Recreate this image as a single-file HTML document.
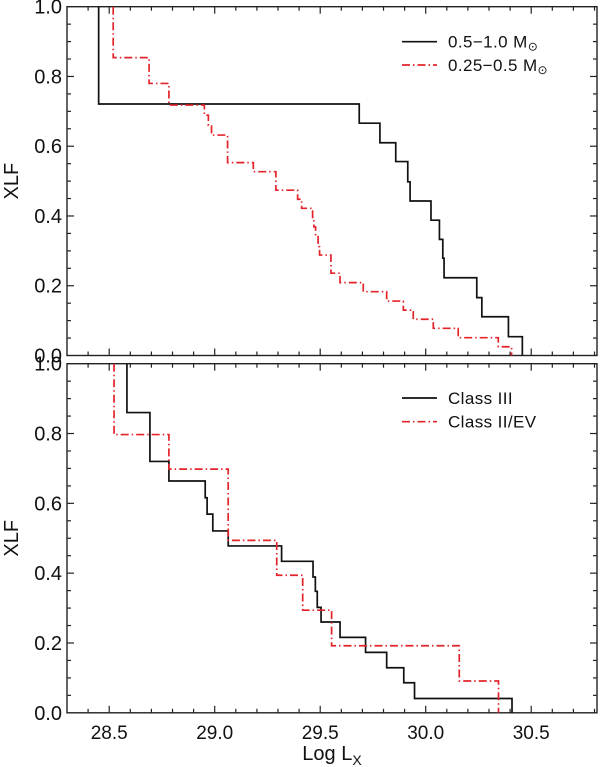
<!DOCTYPE html>
<html><head><meta charset="utf-8"><style>
html,body{margin:0;padding:0;background:#fff}
svg{display:block;font-family:"Liberation Sans",sans-serif}
</style></head><body>
<svg id="chart" width="600" height="767" viewBox="0 0 600 767" xmlns="http://www.w3.org/2000/svg"></svg>
<script>
// Top panel: mass bins. Each series: drop positions (log Lx) and level after drop.
const topBlackX = [28.450,29.685,29.783,29.858,29.915,29.926,30.025,30.065,30.081,30.087,30.242,30.266,30.392,30.458];
const topBlackY = [0.721,0.666,0.610,0.556,0.498,0.443,0.388,0.333,0.279,0.223,0.166,0.111,0.054,0.0];
const topRedX = [28.519,28.689,28.783,28.951,28.970,28.985,29.061,29.183,29.290,29.393,29.412,29.464,29.470,29.478,29.490,29.497,29.551,29.594,29.704,29.815,29.894,29.941,30.036,30.154,30.344,30.407];
const topRedY = [0.854,0.780,0.718,0.689,0.660,0.632,0.553,0.527,0.474,0.448,0.422,0.396,0.369,0.341,0.312,0.288,0.236,0.209,0.183,0.156,0.130,0.104,0.078,0.051,0.025,0.0];
// Bottom panel: classes
const botBlackX = [28.584,28.693,28.783,28.955,28.964,28.991,29.064,29.317,29.466,29.477,29.486,29.504,29.594,29.715,29.815,29.896,29.947,30.409];
const botBlackY = [0.860,0.720,0.664,0.616,0.569,0.521,0.478,0.434,0.389,0.348,0.302,0.260,0.216,0.173,0.129,0.086,0.041,0.0];
const botRedX = [28.523,28.783,29.064,29.294,29.417,29.554,30.159,30.345];
const botRedY = [0.797,0.698,0.494,0.394,0.294,0.192,0.091,0.0];
const xTickLabels = ["28.5","29.0","29.5","30.0","30.5"];
const yTickLabels = ["0.0","0.2","0.4","0.6","0.8","1.0"];

const NS="http://www.w3.org/2000/svg";
const svg=document.getElementById('chart');
const X0=67,X1=597,XMIN=28.3,XMAX=30.8118;
function xs(v){return X0+(v-XMIN)/(XMAX-XMIN)*(X1-X0);}
const panels=[{top:6.7,bot:355.5,name:'top'},{top:363.7,bot:712.8,name:'bottom'}];
function mk(tag,attrs,parent){const e=document.createElementNS(NS,tag);for(const k in attrs)e.setAttribute(k,attrs[k]);(parent||svg).appendChild(e);return e;}

function drawPanel(p,series,legend,showX){
  const ys=v=>p.bot-v*(p.bot-p.top);
  const g=mk('g',{});
  
  
  const fr=mk('rect',{x:X0,y:p.top,width:X1-X0,height:p.bot-p.top,fill:'none',stroke:'#222','stroke-width':1.4},g);
  
  
  for(let i=0;i<=25;i++){
    const v=28.3+i*0.1; const x=xs(v); if(x<X0+1||x>X1-1)continue;
    const major=Math.abs((v*10)%5)<0.01||Math.abs((v*10)%5-5)<0.01;
    const L=major?7:4;
    mk('line',{x1:x,x2:x,y1:p.bot,y2:p.bot-L,stroke:'#222','stroke-width':1.2},g);
    mk('line',{x1:x,x2:x,y1:p.top,y2:p.top+L,stroke:'#222','stroke-width':1.2},g);
  }
  if(showX){
    xTickLabels.forEach(t=>{
      const tx=mk('text',{x:xs(parseFloat(t)),y:739,'text-anchor':'middle','font-size':19,fill:'#111'},g);
      tx.textContent=t;
      
      
    });
  }
  for(let i=0;i<=20;i++){
    const v=i*0.05; const y=ys(v);
    const major=i%4===0; const L=major?7:4;
    if(i>0&&i<20){
      mk('line',{x1:X0,x2:X0+L,y1:y,y2:y,stroke:'#222','stroke-width':1.2},g);
      mk('line',{x1:X1,x2:X1-L,y1:y,y2:y,stroke:'#222','stroke-width':1.2},g);
    }
  }
  yTickLabels.forEach(t=>{
    const tx=mk('text',{x:62,y:ys(parseFloat(t))+7,'text-anchor':'end','font-size':20,fill:'#111'},g);
    tx.textContent=t;
    
    
  });
  const yl=mk('text',{x:0,y:0,transform:`translate(18,${(p.top+p.bot)/2}) rotate(-90)`,'text-anchor':'middle','font-size':20,fill:'#111'},g);
  yl.textContent='XLF';
  
  
  series.forEach(s=>{
    let d=`M${xs(s.x[0])},${p.top} L${xs(s.x[0])},${ys(s.y[0])}`;
    for(let i=1;i<s.x.length;i++){d+=` L${xs(s.x[i])},${ys(s.y[i-1])} L${xs(s.x[i])},${ys(s.y[i])}`;}
    const path=mk('path',{d:d,fill:'none',stroke:s.color,'stroke-width':1.7,'stroke-dasharray':s.dash||'none'},g);
    
    
  });
  legend.forEach((l,i)=>{
    const y=l.y;
    const ln=mk('line',{x1:402,x2:437,y1:y,y2:y,stroke:l.color,'stroke-width':1.7,'stroke-dasharray':l.dash||'none'},g);
    
    
    const tx=mk('text',{x:448,y:y+6,'font-size':17,fill:'#111','letter-spacing':'0.4'},g);
    tx.innerHTML=l.label;
    
    
  });
}
const RED='#e3242b', DASH='8,3,1.5,3';
drawPanel(panels[0],[
  {x:topBlackX,y:topBlackY,color:'#111',name:'series-0.5-1.0-msun'},
  {x:topRedX,y:topRedY,color:RED,dash:DASH,name:'series-0.25-0.5-msun'}],
  [{y:41.7,color:'#111',label:'0.5\u22121.0 M<tspan font-size="12" dy="3">\u2299</tspan>'},
   {y:65,color:RED,dash:DASH,label:'0.25\u22120.5 M<tspan font-size="12" dy="3">\u2299</tspan>'}],false);
drawPanel(panels[1],[
  {x:botBlackX,y:botBlackY,color:'#111',name:'series-class-iii'},
  {x:botRedX,y:botRedY,color:RED,dash:DASH,name:'series-class-ii-ev'}],
  [{y:398,color:'#111',label:'Class III'},{y:421.7,color:RED,dash:DASH,label:'Class II/EV'}],true);
const xl=mk('text',{x:332,y:760,'text-anchor':'middle','font-size':20,fill:'#111'});
xl.innerHTML='Log L<tspan font-size="14" dy="5">X</tspan>';


</script>
</body></html>
